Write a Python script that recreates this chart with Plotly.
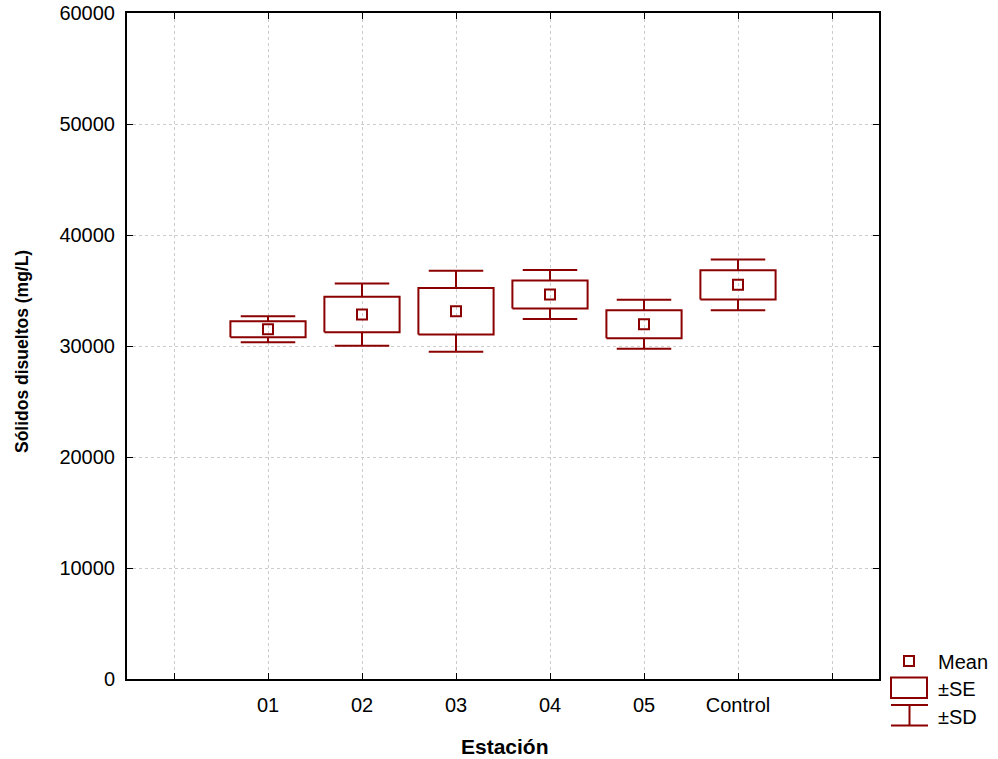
import plotly.graph_objects as go

categories = ["01", "02", "03", "04", "05", "Control"]
means = [31500, 32830, 33130, 34640, 31960, 35510]
se = [720, 1600, 2090, 1260, 1260, 1310]
sd = [1170, 2800, 3640, 2210, 2200, 2290]
y_ticks = [0, 10000, 20000, 30000, 40000, 50000, 60000]

COLOR = "#8b0000"
BOX_HALF = 0.4
CAP_HALF = 0.29
positions = [i + 1.5 for i in range(len(categories))]

fig = go.Figure()

for x, m, s, d in zip(positions, means, se, sd):
    # SE box
    fig.add_trace(go.Scatter(
        x=[x - BOX_HALF, x + BOX_HALF, x + BOX_HALF, x - BOX_HALF, x - BOX_HALF],
        y=[m - s, m - s, m + s, m + s, m - s],
        mode="lines", line=dict(color=COLOR, width=2), showlegend=False, hoverinfo="skip"))
    # SD whiskers (upper + lower)
    fig.add_trace(go.Scatter(
        x=[x, x, None, x - CAP_HALF, x + CAP_HALF, None, x, x, None, x - CAP_HALF, x + CAP_HALF],
        y=[m + s, m + d, None, m + d, m + d, None, m - s, m - d, None, m - d, m - d],
        mode="lines", line=dict(color=COLOR, width=2), showlegend=False, hoverinfo="skip"))

fig.add_trace(go.Scatter(
    x=positions, y=means, mode="markers",
    marker=dict(symbol="square-open", size=10, color=COLOR, line=dict(color=COLOR, width=2)),
    showlegend=False))

# legend and axis titles placed in pixel-derived paper coordinates
L, R, T, B = 127, 879, 13, 679
def px(xp):
    return (xp - L) / (R - L)
def py(yp):
    return (B - yp) / (B - T)

shapes = [
    dict(type="rect", xref="paper", yref="paper", x0=px(904), x1=px(914), y0=py(666), y1=py(656),
         line=dict(color=COLOR, width=2)),
    dict(type="rect", xref="paper", yref="paper", x0=px(891), x1=px(927), y0=py(698), y1=py(677.5),
         line=dict(color=COLOR, width=2)),
    dict(type="line", xref="paper", yref="paper", x0=px(891), x1=px(928), y0=py(705), y1=py(705),
         line=dict(color=COLOR, width=2)),
    dict(type="line", xref="paper", yref="paper", x0=px(891), x1=px(928), y0=py(725.5), y1=py(725.5),
         line=dict(color=COLOR, width=2)),
    dict(type="line", xref="paper", yref="paper", x0=px(909.5), x1=px(909.5), y0=py(705), y1=py(725.5),
         line=dict(color=COLOR, width=2)),
]
annotations = [
    dict(text=t, xref="paper", yref="paper", x=px(936), y=py(yy), xanchor="left", yanchor="middle",
         showarrow=False, font=dict(size=20, color="black"))
    for t, yy in [("Mean", 662), ("±SE", 689), ("±SD", 717)]
]
annotations.append(dict(text="<b>Estación</b>", xref="paper", yref="paper", x=px(505), y=py(746),
                        xanchor="center", yanchor="middle", showarrow=False,
                        font=dict(size=21, color="black")))
annotations.append(dict(text="<b>Sólidos disueltos (mg/L)</b>", xref="paper", yref="paper",
                        x=px(22), y=py(352), xanchor="center", yanchor="middle", textangle=-90,
                        showarrow=False, font=dict(size=17.5, color="black")))

fig.update_layout(
    width=998, height=759,
    margin=dict(l=127, r=998 - 879, t=13, b=759 - 679),
    plot_bgcolor="white", paper_bgcolor="white",
    font=dict(family="Liberation Sans, Arial, sans-serif", size=20, color="black"),
    shapes=shapes, annotations=annotations,
    showlegend=False,
)
fig.update_xaxes(
    range=[0, 8], tickmode="array",
    tickvals=[i + 0.5 for i in range(8)],
    ticktext=[""] + categories + [""],
    showgrid=True, gridcolor="#cccccc", griddash="dot", gridwidth=1,
    showline=True, linecolor="black", linewidth=2, mirror="ticks",
    ticks="inside", ticklen=6, tickcolor="black", tickwidth=1,
    zeroline=False, automargin=False, ticklabelstandoff=7,
)
fig.update_yaxes(
    range=[0, 60000], tickmode="array", tickvals=y_ticks,
    ticktext=[str(v) for v in y_ticks],
    showgrid=True, gridcolor="#cccccc", griddash="dot", gridwidth=1,
    showline=True, linecolor="black", linewidth=2, mirror="ticks",
    ticks="inside", ticklen=6, tickcolor="black", tickwidth=1,
    zeroline=False, automargin=False, ticklabelstandoff=6,
)

fig.write_html("out.html", config={"displayModeBar": False},
               post_script="document.body.style.margin='0';")
